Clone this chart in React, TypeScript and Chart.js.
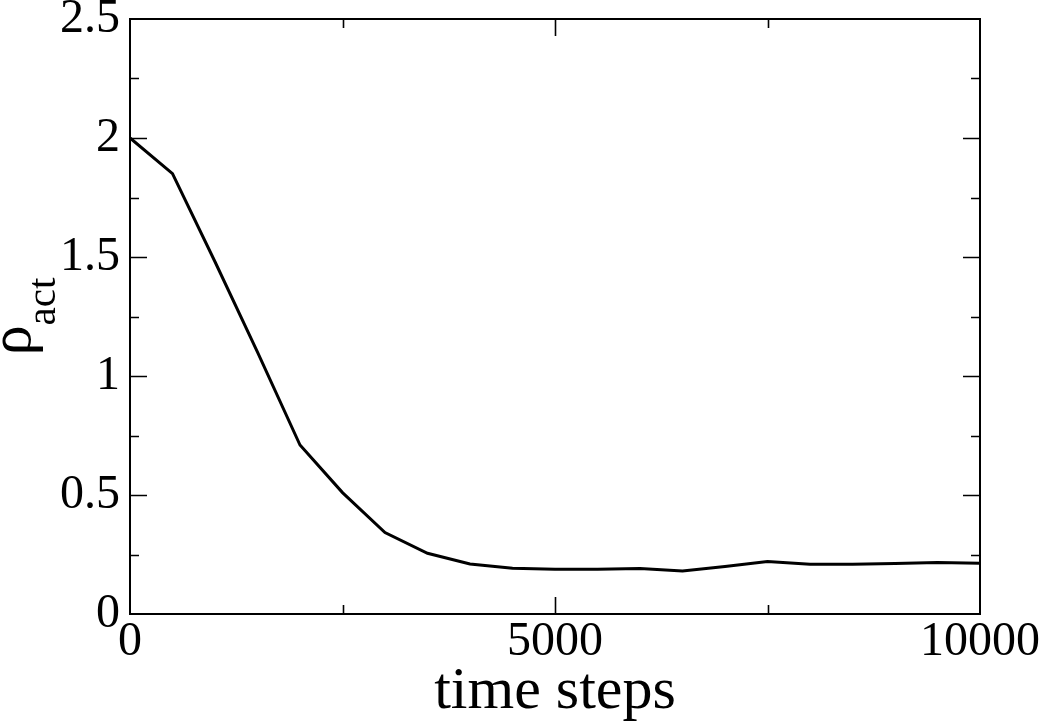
import React, { useEffect, useRef } from "react";
import { Chart, registerables } from "chart.js";

Chart.register(...registerables);

const steps: number[] = [0, 500, 1000, 1500, 2000, 2500, 3000, 3500, 4000, 4500, 5000, 5500, 6000, 6500, 7000, 7500, 8000, 8500, 9000, 9500, 10000];
const rhoAct: number[] = [2.0, 1.85, 1.48, 1.1, 0.71, 0.51, 0.342, 0.255, 0.21, 0.192, 0.188, 0.188, 0.191, 0.181, 0.2, 0.221, 0.209, 0.209, 0.212, 0.216, 0.213];
const xTickLabels: number[] = [0, 5000, 10000];
const yTickLabels: number[] = [0, 0.5, 1, 1.5, 2, 2.5];
const xTitle = "time steps";
const yTitleMain = "ρ";
const yTitleSub = "act";

const FONT = '"Liberation Serif", "DejaVu Serif", serif';

const framePlugin = {
  id: "framePlugin",
  afterDraw(chart: any) {
    const { ctx, chartArea } = chart;
    const { left, right, top, bottom } = chartArea;
    const xs = chart.scales.x;
    const ys = chart.scales.y;
    ctx.save();
    ctx.strokeStyle = "#000";
    ctx.lineWidth = 2;
    ctx.lineCap = "butt";
    ctx.strokeRect(left, top, right - left, bottom - top);
    ctx.lineWidth = 1.6;
    ctx.beginPath();
    ys.ticks.forEach((t: any) => {
      const v = t.value;
      if (v <= ys.min || v >= ys.max) return;
      const major = yTickLabels.some((m) => Math.abs(m - v) < 1e-9);
      const len = major ? 17 : 9;
      const py = Math.round(ys.getPixelForValue(v)) + 0.5;
      ctx.moveTo(left, py);
      ctx.lineTo(left + len, py);
      ctx.moveTo(right, py);
      ctx.lineTo(right - len, py);
    });
    xs.ticks.forEach((t: any) => {
      const v = t.value;
      if (v <= xs.min || v >= xs.max) return;
      const major = xTickLabels.some((m) => Math.abs(m - v) < 1e-9);
      const len = major ? 17 : 9;
      const px = Math.round(xs.getPixelForValue(v)) + 0.5;
      ctx.moveTo(px, bottom);
      ctx.lineTo(px, bottom - len);
      ctx.moveTo(px, top);
      ctx.lineTo(px, top + len);
    });
    ctx.stroke();

    // x title
    ctx.fillStyle = "#000";
    ctx.font = `60px ${FONT}`;
    ctx.textAlign = "center";
    ctx.textBaseline = "alphabetic";
    ctx.fillText(xTitle, (left + right) / 2, 708);

    // y title (rotated, with subscript)
    const cy = (top + bottom) / 2;
    ctx.translate(30, cy);
    ctx.rotate(-Math.PI / 2);
    ctx.textAlign = "left";
    const mainFont = `60px ${FONT}`;
    const subFont = `41px ${FONT}`;
    ctx.font = mainFont;
    const wMain = ctx.measureText(yTitleMain).width;
    ctx.font = subFont;
    const wSub = ctx.measureText(yTitleSub).width;
    const total = wMain + wSub;
    ctx.font = mainFont;
    ctx.fillText(yTitleMain, -total / 2, 0);
    ctx.font = subFont;
    ctx.fillText(yTitleSub, -total / 2 + wMain, 25);
    ctx.restore();
  },
};

export default function App() {
  const ref = useRef<HTMLCanvasElement | null>(null);
  useEffect(() => {
    if (!ref.current) return;
    const zeroPad = (s: any) => {
      s.paddingTop = 0;
      s.paddingBottom = 0;
      s.paddingLeft = 0;
      s.paddingRight = 0;
    };
    const chart = new Chart(ref.current, {
      type: "line",
      data: {
        datasets: [
          {
            data: steps.map((s, i) => ({ x: s, y: rhoAct[i] })),
            borderColor: "#000",
            borderWidth: 3,
            pointRadius: 0,
            tension: 0,
            fill: false,
          },
        ],
      },
      options: {
        animation: false,
        responsive: false,
        maintainAspectRatio: false,
        layout: { padding: { left: 0, top: 19, right: 62, bottom: 0 } },
        plugins: { legend: { display: false }, tooltip: { enabled: false } },
        scales: {
          x: {
            type: "linear",
            min: 0,
            max: 10000,
            grid: { display: false, drawTicks: false, tickLength: 0 },
            border: { display: false },
            ticks: {
              stepSize: 2500,
              autoSkip: false,
              maxRotation: 0,
              minRotation: 0,
              padding: 4,
              color: "#000",
              font: { family: FONT, size: 48, lineHeight: 1 },
              callback: (v: any) => (xTickLabels.some((m) => Math.abs(m - Number(v)) < 1e-9) ? String(v) : ""),
            },
            afterFit: (s: any) => {
              s.height = 108;
              zeroPad(s);
            },
          },
          y: {
            type: "linear",
            min: 0,
            max: 2.5,
            grid: { display: false, drawTicks: false, tickLength: 0 },
            border: { display: false },
            ticks: {
              stepSize: 0.25,
              autoSkip: false,
              padding: 10,
              color: "#000",
              font: { family: FONT, size: 48, lineHeight: 1 },
              callback: (v: any) => (yTickLabels.some((m) => Math.abs(m - Number(v)) < 1e-9) ? String(v) : ""),
            },
            afterFit: (s: any) => {
              s.width = 130;
              zeroPad(s);
            },
          },
        },
      },
      plugins: [framePlugin],
    } as any);
    return () => chart.destroy();
  }, []);
  return (
    <div style={{ position: "absolute", left: 0, top: 0, width: 1042, height: 722, background: "#fff" }}>
      <canvas ref={ref} width={1042} height={722} style={{ display: "block" }} />
    </div>
  );
}
